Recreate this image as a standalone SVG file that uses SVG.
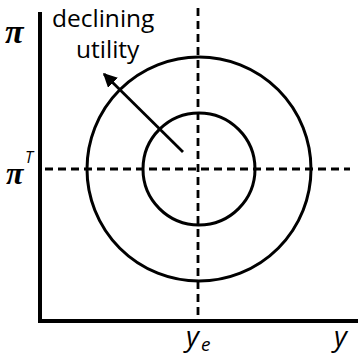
<svg xmlns="http://www.w3.org/2000/svg" width="358" height="356" viewBox="0 0 358 356">
<style>
.ax{stroke:#000;stroke-width:4;fill:none}
.c{stroke:#000;stroke-width:3;fill:none}
.d{stroke:#000;stroke-width:2.8;stroke-dasharray:8,5;fill:none}
.lbl{font-family:"Open Sans","Liberation Sans",sans-serif;font-size:24.5px;fill:#000}
.gr{font-family:"Liberation Serif",serif;font-style:italic;font-weight:bold;fill:#000}
.it{font-family:"Open Sans","Liberation Sans",sans-serif;font-style:italic;fill:#000}
</style>
<defs>
<marker id="ah" viewBox="0 0 10 10" refX="9" refY="5" markerWidth="5" markerHeight="5" orient="auto"><path d="M0,0 L10,5 L0,10 z" fill="#000"/></marker>
</defs>
<rect width="358" height="356" fill="#fff"/>
<g id="axes">
<path class="ax" d="M40,12 V321 H358"/>
</g>
<g id="connectors">
<path class="d" d="M198,8 V318"/>
<path class="d" d="M45,169 H350"/>
<path d="M183,152 L104,74" stroke="#000" stroke-width="2.8" marker-end="url(#ah)"/>
</g>
<g id="outer"><circle class="c" cx="199" cy="169" r="112"/></g>
<g id="inner"><circle class="c" cx="199" cy="169" r="56"/></g>
<g id="labels">
<text class="lbl" x="52" y="27">declining</text>
<text class="lbl" x="76" y="58">utility</text>
<text class="gr" x="5" y="43" font-size="34">π</text>
<text class="gr" x="6" y="184" font-size="32">π</text>
<text class="it" x="25" y="163" font-size="16">T</text>
<text class="it" x="186" y="346" font-size="28">y</text>
<text class="it" x="201" y="351" font-size="19">e</text>
<text class="it" x="334" y="346" font-size="28">y</text>
</g>
</svg>
